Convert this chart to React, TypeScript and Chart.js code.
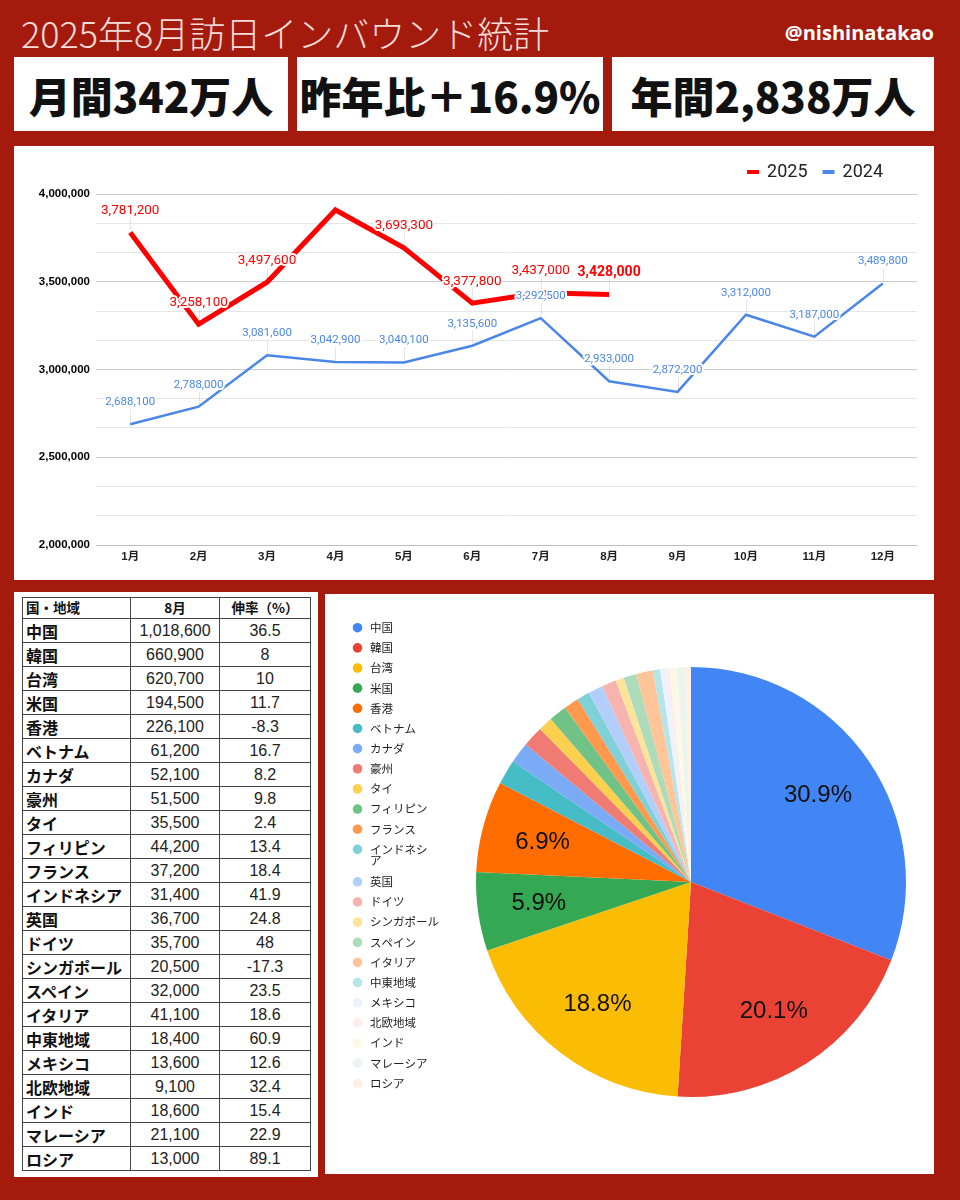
import React, { useEffect, useRef } from "react";
import { Chart, registerables } from "chart.js";

Chart.register(...registerables);

// ---------- Line chart data ----------
const months = ["1月", "2月", "3月", "4月", "5月", "6月", "7月", "8月", "9月", "10月", "11月", "12月"];
const visitors2025: (number | null)[] = [3781200, 3258100, 3497600, 3908900, 3693300, 3377800, 3437000, 3428000, null, null, null, null];
const visitors2024 = [2688100, 2788000, 3081600, 3042900, 3040100, 3135600, 3292500, 2933000, 2872200, 3312000, 3187000, 3489800];
const annotated2025 = [true, true, true, false, true, true, true, true];
const latestIndex2025 = 7;
const seriesNames = ["2025", "2024"];
const seriesColors = ["#ff0000", "#4a86e8"];
const yMin = 2000000;
const yMax = 4000000;
const yLabelStep = 500000;
const yGridDivisions = 3;

// ---------- Country table / pie data ----------
const countries = [
  "中国", "韓国", "台湾", "米国", "香港", "ベトナム", "カナダ", "豪州", "タイ", "フィリピン", "フランス", "インドネシア",
  "英国", "ドイツ", "シンガポール", "スペイン", "イタリア", "中東地域", "メキシコ", "北欧地域", "インド", "マレーシア", "ロシア",
];
const augustVisitors = [
  1018600, 660900, 620700, 194500, 226100, 61200, 52100, 51500, 35500, 44200, 37200, 31400,
  36700, 35700, 20500, 32000, 41100, 18400, 13600, 9100, 18600, 21100, 13000,
];
const growthRates = [
  "36.5", "8", "10", "11.7", "-8.3", "16.7", "8.2", "9.8", "2.4", "13.4", "18.4", "41.9",
  "24.8", "48", "-17.3", "23.5", "18.6", "60.9", "12.6", "32.4", "15.4", "22.9", "89.1",
];
const pieColors = [
  "#4285f4", "#ea4335", "#fbbc04", "#34a853", "#ff6d01", "#46bdc6", "#7baaf7", "#f07b72", "#fcd04f", "#71c287", "#ff994d", "#7ed1d7",
  "#b3cefb", "#f7b4ae", "#fde49b", "#aedcba", "#ffc599", "#b5e5e8", "#ecf3fe", "#fdeceb", "#fff8e6", "#eaf6ed", "#fff0e6",
];
const legendWrap: Record<string, string[]> = { "インドネシア": ["インドネシ", "ア"] };
const tableHeaders = ["国・地域", "8月", "伸率（%）"];

const fmt = (v: number) => v.toLocaleString("en-US");

const BG = "#a41b0e";
const JP = '"Noto Sans CJK JP", "Noto Sans", sans-serif';
const AR = '"Liberation Sans", Arial, "Noto Sans CJK JP", sans-serif';
const RB = 'Roboto, "Liberation Sans", sans-serif';

// ---------- Plugins ----------
const lineLabelsPlugin = {
  id: "lineLabels",
  afterDatasetsDraw(chart: any) {
    const ctx = chart.ctx;
    chart.data.datasets.forEach((ds: any, di: number) => {
      const meta = chart.getDatasetMeta(di);
      meta.data.forEach((pt: any, i: number) => {
        const v = ds.data[i];
        if (v == null) return;
        const is2025 = di === 0;
        if (is2025 && !annotated2025[i]) return;
        const bold = is2025 && i === latestIndex2025;
        const text = fmt(v);
        const ty = pt.y - 22;
        ctx.save();
        ctx.strokeStyle = "rgba(0,0,0,0.1)";
        ctx.lineWidth = 1;
        ctx.beginPath();
        ctx.moveTo(Math.round(pt.x) + 0.5, ty + 7);
        ctx.lineTo(Math.round(pt.x) + 0.5, pt.y - 2);
        ctx.stroke();
        ctx.font = bold ? `bold 14px ${RB}` : is2025 ? `13.5px ${RB}` : `11.5px ${RB}`;
        ctx.textAlign = "center";
        ctx.textBaseline = "middle";
        ctx.lineJoin = "round";
        ctx.lineWidth = 4;
        ctx.strokeStyle = "#ffffff";
        ctx.strokeText(text, pt.x, ty);
        ctx.fillStyle = ds.borderColor;
        ctx.fillText(text, pt.x, ty);
        ctx.restore();
      });
    });
  },
  afterDraw(chart: any) {
    const ctx = chart.ctx;
    ctx.save();
    ctx.font = `18px ${RB}`;
    ctx.textBaseline = "middle";
    const dash = 12, gap = 8, itemGap = 15;
    const items = chart.data.datasets.map((d: any) => ({ label: d.label, color: d.borderColor, w: ctx.measureText(d.label).width }));
    const total = items.reduce((s: number, it: any, k: number) => s + dash + gap + it.w + (k > 0 ? itemGap : 0), 0);
    let x = chart.chartArea.right - 34 - total;
    const y = 26;
    items.forEach((it: any) => {
      ctx.fillStyle = it.color;
      ctx.fillRect(x, y - 2, dash, 4);
      x += dash + gap;
      ctx.fillStyle = "#222";
      ctx.fillText(it.label, x, y);
      x += it.w + itemGap;
    });
    ctx.restore();
  },
};

const pieLabelsPlugin = {
  id: "pieLabels",
  afterDatasetsDraw(chart: any) {
    const ctx = chart.ctx;
    const data: number[] = chart.data.datasets[0].data;
    const total = data.reduce((a, b) => a + b, 0);
    const meta = chart.getDatasetMeta(0);
    ctx.save();
    ctx.font = `24px ${AR}`;
    ctx.fillStyle = "#111";
    ctx.textAlign = "center";
    ctx.textBaseline = "middle";
    meta.data.forEach((arc: any, i: number) => {
      const pct = (data[i] / total) * 100;
      if (pct < 5) return;
      const p = arc.getProps(["x", "y", "startAngle", "endAngle", "outerRadius"], true);
      const mid = (p.startAngle + p.endAngle) / 2;
      const r = p.outerRadius * 0.715;
      ctx.fillText(pct.toFixed(1) + "%", p.x + Math.cos(mid) * r, p.y + Math.sin(mid) * r);
    });
    ctx.restore();
  },
  afterDraw(chart: any) {
    const ctx = chart.ctx;
    const labels: string[] = chart.data.labels;
    const colors: string[] = chart.data.datasets[0].backgroundColor;
    ctx.save();
    ctx.font = `11.5px ${JP}`;
    ctx.textBaseline = "middle";
    let y = 33.7;
    labels.forEach((lab, i) => {
      const lines = legendWrap[lab] || [lab];
      ctx.fillStyle = colors[i];
      ctx.beginPath();
      ctx.arc(32.5, y, 4.8, 0, Math.PI * 2);
      ctx.fill();
      ctx.fillStyle = "#222";
      lines.forEach((ln, k) => ctx.fillText(ln, 45, y + k * 11.5));
      y += 20.15 + (lines.length - 1) * 12.3;
    });
    ctx.restore();
  },
};

function LineChart() {
  const ref = useRef<HTMLCanvasElement>(null);
  useEffect(() => {
    const step = yLabelStep / yGridDivisions;
    const chart = new Chart(ref.current!, {
      type: "line",
      data: {
        labels: months,
        datasets: [
          { label: seriesNames[0], data: visitors2025, borderColor: seriesColors[0], backgroundColor: seriesColors[0], borderWidth: 5, pointRadius: 0, tension: 0, spanGaps: false },
          { label: seriesNames[1], data: visitors2024, borderColor: seriesColors[1], backgroundColor: seriesColors[1], borderWidth: 2.5, pointRadius: 0, tension: 0 },
        ],
      },
      options: {
        animation: false,
        responsive: true,
        maintainAspectRatio: false,
        events: [],
        layout: { padding: { top: 48, right: 17, left: 0, bottom: 0 } },
        plugins: { legend: { display: false }, tooltip: { enabled: false } },
        scales: {
          x: {
            offset: true,
            grid: { display: false, drawTicks: false },
            border: { display: false },
            ticks: { color: "#222", font: { family: AR, size: 11.5, weight: "bold" }, padding: 5, maxRotation: 0 },
            afterFit: (s: any) => { s.height = 35; },
          },
          y: {
            min: yMin,
            max: yMax,
            border: { display: false },
            grid: {
              drawTicks: false,
              color: (c: any) => {
                const v = c.tick ? c.tick.value : 0;
                const r = Math.abs(Math.round(v) % yLabelStep);
                if (Math.abs(v - yMin) < 1) return "#bdbdbd";
                return r < 2 || r > yLabelStep - 2 ? "#cccccc" : "#e6e6e6";
              },
            },
            afterBuildTicks: (s: any) => {
              const t = [];
              for (let v = yMin; v <= yMax + 1; v += step) t.push({ value: Math.round(v) });
              s.ticks = t;
            },
            ticks: {
              color: "#000",
              padding: 6,
              font: { family: AR, size: 11.5, weight: "bold" },
              callback: (v: any) => {
                const r = Math.abs(Math.round(v) % yLabelStep);
                return r < 2 || r > yLabelStep - 2 ? fmt(Math.round(v)) : "";
              },
            },
            afterFit: (s: any) => { s.width = 82; },
          },
        },
      },
      plugins: [lineLabelsPlugin],
    } as any);
    return () => chart.destroy();
  }, []);
  return (
    <div style={{ position: "relative", width: 920, height: 434 }}>
      <canvas ref={ref} />
    </div>
  );
}

function PieChart() {
  const ref = useRef<HTMLCanvasElement>(null);
  useEffect(() => {
    const chart = new Chart(ref.current!, {
      type: "pie",
      data: {
        labels: countries,
        datasets: [{ data: augustVisitors, backgroundColor: pieColors, borderWidth: 0 }],
      },
      options: {
        animation: false,
        responsive: true,
        maintainAspectRatio: false,
        events: [],
        radius: 215,
        layout: { padding: { left: 151, top: 73, right: 28, bottom: 77 } },
        plugins: { legend: { display: false }, tooltip: { enabled: false } },
      },
      plugins: [pieLabelsPlugin],
    } as any);
    return () => chart.destroy();
  }, []);
  return (
    <div style={{ position: "relative", width: 609, height: 580 }}>
      <canvas ref={ref} />
    </div>
  );
}

const boxTexts = ["月間342万人", "昨年比＋16.9%", "年間2,838万人"];
const boxLefts = [14, 297, 612];
const boxWidths = [274, 306, 322];

const cellBase: React.CSSProperties = {
  border: "1px solid #444",
  padding: "0 3px",
  lineHeight: 1,
  whiteSpace: "nowrap",
  overflow: "hidden",
  color: "#111",
};

export default function App() {
  return (
    <div style={{ position: "absolute", left: 0, top: 0, width: 960, height: 1200, background: BG, overflow: "hidden" }}>
      <div style={{ position: "absolute", left: 21, top: 14, fontFamily: JP, fontSize: 36, lineHeight: 1, color: "#f6dcd8", fontWeight: 300, whiteSpace: "nowrap" }}>
        2025年8月訪日インバウンド統計
      </div>
      <div style={{ position: "absolute", right: 26, top: 23, fontFamily: '"Open Sans", sans-serif', fontSize: 20, fontWeight: 700, lineHeight: 1, color: "#fff" }}>
        @nishinatakao
      </div>
      {boxTexts.map((t, i) => (
        <div key={t} style={{
          position: "absolute", left: boxLefts[i], top: 57, width: boxWidths[i], height: 74, background: "#fff",
          display: "flex", alignItems: "center", justifyContent: "center",
          fontFamily: JP, fontSize: 42, fontWeight: 900, color: "#111", whiteSpace: "nowrap",
        }}>{t}</div>
      ))}
      <div style={{ position: "absolute", left: 14, top: 146, width: 920, height: 434, background: "#fff" }}>
        <LineChart />
      </div>
      <div style={{ position: "absolute", left: 14, top: 592, width: 304, height: 585, background: "#fff" }}>
        <table style={{ position: "absolute", left: 8, top: 5, width: 288, borderCollapse: "collapse", tableLayout: "fixed" }}>
          <colgroup>
            <col style={{ width: 108 }} />
            <col style={{ width: 89 }} />
            <col style={{ width: 91 }} />
          </colgroup>
          <thead>
            <tr style={{ height: 21 }}>
              {tableHeaders.map((h, k) => (
                <th key={h} style={{ ...cellBase, fontFamily: JP, fontSize: 13.5, fontWeight: 700, textAlign: k === 0 ? "left" : "center" }}>{h}</th>
              ))}
            </tr>
          </thead>
          <tbody>
            {countries.map((c, i) => (
              <tr key={c} style={{ height: 24 }}>
                <td style={{ ...cellBase, fontFamily: JP, fontSize: 16, fontWeight: 700, textAlign: "left" }}>{c}</td>
                <td style={{ ...cellBase, fontFamily: AR, fontSize: 16, textAlign: "center", color: "#222" }}>{fmt(augustVisitors[i])}</td>
                <td style={{ ...cellBase, fontFamily: AR, fontSize: 16, textAlign: "center", color: "#222" }}>{growthRates[i]}</td>
              </tr>
            ))}
          </tbody>
        </table>
      </div>
      <div style={{ position: "absolute", left: 325, top: 594, width: 609, height: 580, background: "#fff" }}>
        <PieChart />
      </div>
    </div>
  );
}
